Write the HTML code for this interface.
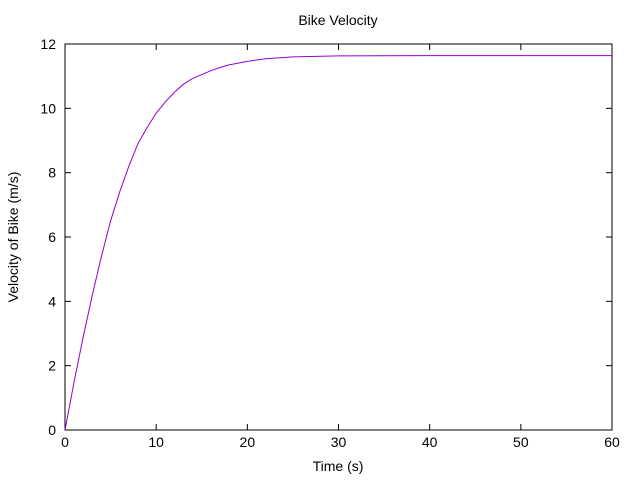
<!DOCTYPE html>
<html><head><meta charset="utf-8"><style>
html,body{margin:0;padding:0;background:#fff;}
svg{display:block;font-family:"Liberation Sans",sans-serif;}
</style></head><body>
<svg id="chart" width="640" height="480">
<rect width="640" height="480" fill="#fff"/>
</svg>
<script>
const times = [0,1,2,3,4,5,6,7,8,9,10,11,12,13,14,15,16,17,18,20,22,25,30,40,50,60];
const velocities = [0,1.5,2.9,4.2,5.4,6.5,7.4,8.2,8.9,9.4,9.85,10.2,10.5,10.75,10.93,11.05,11.17,11.27,11.35,11.46,11.54,11.6,11.63,11.64,11.64,11.64];
const xTicks = [0,10,20,30,40,50,60];
const yTicks = [0,2,4,6,8,10,12];

const L=65,R=612,T=44,B=430;
const xs=v=>L+(v-0)/(60-0)*(R-L);
const ys=v=>B-(v-0)/(12-0)*(B-T);
const svg=document.getElementById('chart');
const NS='http://www.w3.org/2000/svg';
function mk(tag,attrs,parent){const e=document.createElementNS(NS,tag);for(const k in attrs)e.setAttribute(k,attrs[k]);(parent||svg).appendChild(e);return e;}

const frame=mk('rect',{x:L,y:T,width:R-L,height:B-T,fill:'none',stroke:'#000','stroke-width':1});



xTicks.forEach(t=>{
  const x=xs(t);
  const g=mk('g',{});
  
  
  mk('line',{x1:x,y1:B,x2:x,y2:B-6,stroke:'#000'},g);
  mk('line',{x1:x,y1:T,x2:x,y2:T+6,stroke:'#000'},g);
  const tx=mk('text',{x:x,y:B+17,'text-anchor':'middle','font-size':14},g);
  tx.textContent=t;
});
yTicks.forEach(t=>{
  const y=ys(t);
  const g=mk('g',{});
  
  
  mk('line',{x1:L,y1:y,x2:L+6,y2:y,stroke:'#000'},g);
  mk('line',{x1:R,y1:y,x2:R-6,y2:y,stroke:'#000'},g);
  const tx=mk('text',{x:L-9,y:y+5,'text-anchor':'end','font-size':14},g);
  tx.textContent=t;
});

const line=mk('polyline',{points:times.map((t,i)=>xs(t)+','+ys(velocities[i])).join(' '),fill:'none',stroke:'#9400d3','stroke-width':1});



const title=mk('text',{x:338,y:25,'text-anchor':'middle','font-size':14});
title.textContent='Bike Velocity';



const xl=mk('text',{x:338,y:471,'text-anchor':'middle','font-size':14});
xl.textContent='Time (s)';



const yl=mk('text',{x:0,y:0,'text-anchor':'middle','font-size':14,transform:'translate(18,237) rotate(-90)'});
yl.textContent='Velocity of Bike (m/s)';


</script>
</body></html>
